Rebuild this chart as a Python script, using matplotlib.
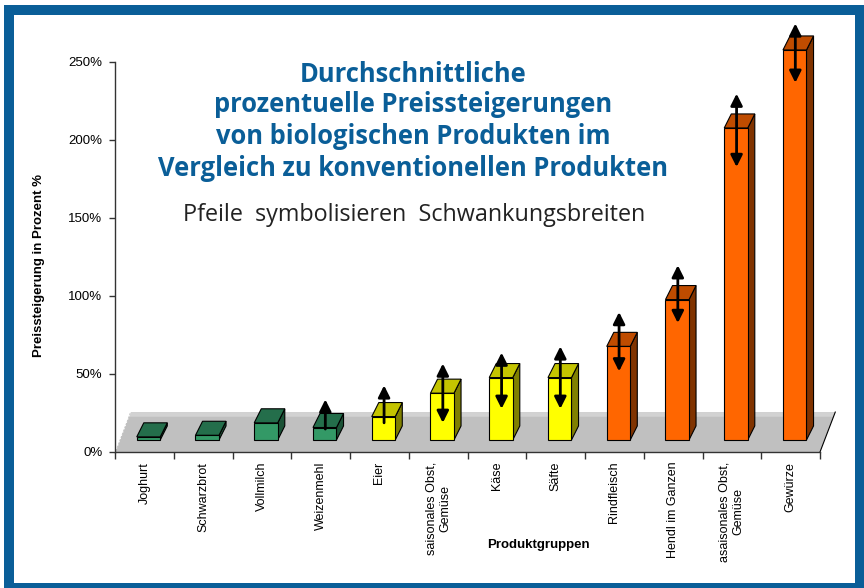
import matplotlib.pyplot as plt
from matplotlib.patches import Polygon, Rectangle

# data
categories = ['Joghurt', 'Schwarzbrot', 'Vollmilch', 'Weizenmehl', 'Eier',
              'saisonales Obst,\nGemüse', 'Käse', 'Säfte', 'Rindfleisch',
              'Hendl im Ganzen', 'asaisonales Obst,\nGemüse', 'Gewürze']
values = [2, 3, 11, 8, 15, 30, 40, 40, 60, 90, 200, 250]
groups = ['g', 'g', 'g', 'g', 'y', 'y', 'y', 'y', 'o', 'o', 'o', 'o']
# Schwankungsbreiten (arrows), None = no arrow
arrow_low = [None, None, None, 7, 11, 11, 20, 20, 44, 75, 175, 229]
arrow_high = [None, None, None, 26, 35, 49, 56, 60, 82, 112, 222, 267]
arrow_both = [False, False, False, False, False, True, True, True, True, True, True, True]
yticks = [0, 50, 100, 150, 200, 250]

# colours: front, top, side
colors = {
    'g': ('#339966', '#246E4B', '#1B5236'),
    'y': ('#FFFF00', '#C4C400', '#808000'),
    'o': ('#FF6600', '#BF4C00', '#803300'),
}
BLUE = '#0A5E98'
W, H = 864, 588


def fx(x):
    return x / W


def fy(y):
    return 1 - y / H


fig = plt.figure(figsize=(8.64, 5.88), dpi=100)
fig.patch.set_facecolor('white')

# blue frame
fig.patches.append(Rectangle((fx(4), 0), 1 - fx(4), fy(5), transform=fig.transFigure,
                             facecolor=BLUE, edgecolor='none', zorder=-2))
fig.patches.append(Rectangle((fx(14), fy(583)), fx(855) - fx(14), fy(15) - fy(583),
                             transform=fig.transFigure, facecolor='white',
                             edgecolor='none', zorder=-1))

ax = fig.add_axes([fx(115), fy(452), fx(820) - fx(115), fy(62) - fy(452)])
ax.set_zorder(1)
ax.set_facecolor('none')
ax.set_xlim(-0.5, len(categories) - 0.5)
ax.set_ylim(0, 250)

# floor
fdx, fdy = 0.26, 25.6
n = len(categories)
ax.add_patch(Polygon([(-0.5, 0), (n - 0.5, 0), (n - 0.5 + fdx, fdy), (-0.5 + fdx, fdy)],
                     closed=True, facecolor='#C0C0C0', edgecolor='none', clip_on=False, zorder=1))
band = 22.6
ax.add_patch(Polygon([(-0.5 + fdx * band / fdy, band), (n - 0.5 + fdx * band / fdy, band),
                      (n - 0.5 + fdx, fdy), (-0.5 + fdx, fdy)],
                     closed=True, facecolor='#D2D2D2', edgecolor='none', clip_on=False, zorder=1))
ax.plot([n - 0.5, n - 0.5 + fdx], [0, fdy], color='black', lw=0.8, clip_on=False, zorder=2)
ax.plot([-0.5, -0.5 + fdx], [0, fdy], color='white', lw=1, ls=(0, (1, 1.5)), clip_on=False, zorder=2)

# 3d bars
base = 7.7
bw, off = 0.40, 0.13
ddx, ddy = 0.12, 9
for i, (v, g) in enumerate(zip(values, groups)):
    front, top, side = colors[g]
    x0 = i - off
    x1 = x0 + bw
    y0 = base
    y1 = base + v
    kw = dict(closed=True, edgecolor='black', lw=0.8, clip_on=False, zorder=3)
    ax.add_patch(Polygon([(x1, y0), (x1 + ddx, y0 + ddy), (x1 + ddx, y1 + ddy), (x1, y1)],
                         facecolor=side, **kw))
    ax.add_patch(Polygon([(x0, y1), (x1, y1), (x1 + ddx, y1 + ddy), (x0 + ddx, y1 + ddy)],
                         facecolor=top, **kw))
    ax.add_patch(Polygon([(x0, y0), (x1, y0), (x1, y1), (x0, y1)],
                         facecolor=front, **kw))

# arrows
for i, (lo, hi, both) in enumerate(zip(arrow_low, arrow_high, arrow_both)):
    if lo is None:
        continue
    style = '<|-|>' if both else '-|>'
    ax.annotate('', xy=(i + 0.08, base + hi), xytext=(i + 0.08, base + lo),
                arrowprops=dict(arrowstyle=style + ',head_length=0.7,head_width=0.35',
                                color='black', lw=2, shrinkA=0, shrinkB=0),
                annotation_clip=False, zorder=4)

# axes
for s in ['top', 'right']:
    ax.spines[s].set_visible(False)
for s in ['left', 'bottom']:
    ax.spines[s].set_color('#333333')
    ax.spines[s].set_linewidth(1)
    ax.spines[s].set_zorder(5)
ax.set_yticks(yticks)
ax.set_yticklabels([f'{t}%' for t in yticks], fontfamily='Liberation Sans', fontsize=9.5)
ax.tick_params(axis='y', direction='out', length=4, width=1, color='#333333', pad=5)
ax.set_xticks(range(n))
ax.set_xticklabels(categories, rotation=90, fontfamily='Liberation Sans', fontsize=9,
                   va='top', ha='center', multialignment='center')
ax.tick_params(axis='x', which='major', length=0, pad=7)
ax.set_xticks([i - 0.5 for i in range(n + 1)], minor=True)
ax.tick_params(axis='x', which='minor', direction='out', length=5, width=1, color='#333333')

fig.text(fx(39), fy(266), 'Preissteigerung in Prozent %', rotation=90, ha='center', va='center',
         fontfamily='Liberation Sans', fontweight='bold', fontsize=9.5)
fig.text(fx(538), fy(545), 'Produktgruppen', ha='center', va='center',
         fontfamily='Liberation Sans', fontweight='bold', fontsize=9.5)

# title
title_lines = ['Durchschnittliche', 'prozentuelle Preissteigerungen',
               'von biologischen Produkten im', 'Vergleich zu konventionellen Produkten']
title_y = [75, 105, 137, 168]
for line, y in zip(title_lines, title_y):
    fig.text(fx(413), fy(y), line, ha='center', va='center', color=BLUE,
             fontfamily='Open Sans', fontweight='bold', fontsize=18.4)
fig.text(fx(414), fy(215), 'Pfeile  symbolisieren  Schwankungsbreiten', ha='center', va='center',
         color='#222222', fontfamily='Open Sans', fontsize=16.8)

fig.savefig('out.png', dpi=100)
